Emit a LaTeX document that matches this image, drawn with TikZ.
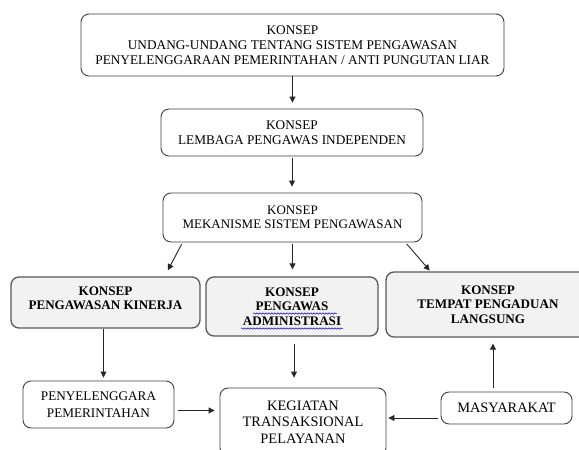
\documentclass[tikz,border=0pt]{standalone}
\usepackage{fontspec}
\setmainfont{Liberation Serif}
\usetikzlibrary{arrows.meta,calc,decorations.pathmorphing}
\definecolor{boxline}{HTML}{404040}
\definecolor{grayline}{HTML}{595959}
\definecolor{grayfill}{HTML}{F2F2F2}
\definecolor{arrline}{HTML}{262626}
\tikzset{
  plainbox/.style={draw=boxline, line width=0.9pt, rounded corners=8pt, fill=white,
    align=center, inner sep=0pt, font=\fontsize{13.3}{15}\selectfont},
  graybox/.style={draw=grayline, line width=1.3pt, rounded corners=8pt, fill=grayfill,
    align=center, inner sep=0pt, font=\bfseries\fontsize{13.1}{14.5}\selectfont},
  bigbox/.style={plainbox, font=\fontsize{14.4}{16.5}\selectfont},
  arr/.style={draw=arrline, line width=0.9pt, -{Triangle[length=6pt,width=6pt]}},
  squiggle/.style={draw=blue!80!black, line width=0.5pt, decorate,
    decoration={snake, amplitude=0.7pt, segment length=3pt}}
}
\begin{document}
\begin{tikzpicture}[x=1pt,y=-1pt]
\clip (0,0) rectangle (579,450);
\fill[white] (0,0) rectangle (579,450);

\node[plainbox, minimum width=423pt, minimum height=62pt] (b1) at (292.5,45)
  {KONSEP\\UNDANG-UNDANG TENTANG SISTEM PENGAWASAN\\PENYELENGGARAAN PEMERINTAHAN / ANTI PUNGUTAN LIAR};
\node[plainbox, minimum width=262pt, minimum height=47pt] (b2) at (292,132.5)
  {KONSEP\\LEMBAGA PENGAWAS INDEPENDEN};
\node[plainbox, minimum width=259pt, minimum height=49pt,
  font=\fontsize{13}{14.5}\selectfont] (b3) at (292.5,217.5)
  {KONSEP\\MEKANISME SISTEM PENGAWASAN};

\node[graybox, minimum width=189pt, minimum height=51pt] (b4a) at (105.5,302.5) {};
\node[font=\bfseries\fontsize{13.1}{13.5}\selectfont, align=center, inner sep=0pt] (t4a) at (105.5,298.5)
  {KONSEP\\PENGAWASAN KINERJA};
\node[graybox, minimum width=172pt, minimum height=59pt] (b4b) at (292,306.5)
  {KONSEP\\PENGAWAS\\ADMINISTRASI};
\node[graybox, minimum width=204pt, minimum height=65pt] (b4c) at (488,304.5)
  {KONSEP\\TEMPAT PENGADUAN\\LANGSUNG};

\draw[squiggle] ($(b4b.center)+(-39,7)$) -- ($(b4b.center)+(45,7)$);
\draw[squiggle] ($(b4b.center)+(-51,22)$) -- ($(b4b.center)+(51,22)$);

\node[plainbox, minimum width=151pt, minimum height=47pt,
  font=\fontsize{13.2}{17}\selectfont] (b5a) at (98.5,404.5)
  {PENYELENGGARA\\PEMERINTAHAN};
\node[bigbox, minimum width=166pt, minimum height=68pt] (b5b) at (303,422)
  {KEGIATAN\\TRANSAKSIONAL\\PELAYANAN};
\node[bigbox, minimum width=131pt, minimum height=32pt] (b5c) at (506.5,408)
  {MASYARAKAT};

% connectors
\draw[arr, shorten >=6pt] (b1.south) -- (b1.south |- b2.north);
\draw[arr, shorten <=2pt, shorten >=6pt] (b2.south) -- (b2.south |- b3.north);
\draw[arr, shorten <=2pt, shorten >=7pt] ([xshift=20pt]b3.south west) -- ([xshift=-36pt]b4a.north east);
\draw[arr, shorten <=2pt, shorten >=7pt] (b3.south) -- (b3.south |- b4b.north);
\draw[arr, shorten <=2pt, shorten >=1pt] ([xshift=-17pt]b3.south east) -- ([xshift=45pt]b4c.north west);
\draw[arr, shorten >=3pt] ([xshift=-2pt]b4a.south) -- ([xshift=-2pt]b4a.south |- b5a.north);
\draw[arr, shorten <=7pt, shorten >=10pt] ([xshift=2pt]b4b.south) -- ([xshift=2pt]b4b.south |- b5b.north);
\draw[arr, shorten <=4pt, shorten >=6pt] ([xshift=-13.5pt]b5c.north) -- ([xshift=-13.5pt]b5c.north |- b4c.south);
\draw[arr, shorten <=4pt, shorten >=5pt] ([yshift=-6pt]b5a.east) -- ([yshift=-6pt]b5a.east -| b5b.west);
\draw[arr, shorten <=3pt, shorten >=2pt] ([yshift=-10pt]b5c.west) -- ([yshift=-10pt]b5c.west -| b5b.east);
\end{tikzpicture}
\end{document}
